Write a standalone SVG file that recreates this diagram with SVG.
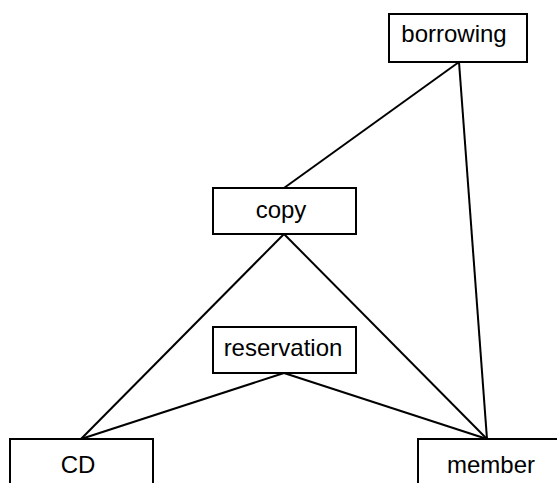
<svg xmlns="http://www.w3.org/2000/svg" width="557" height="483" viewBox="0 0 557 483">
<style>
.box{fill:#fff;stroke:#000;stroke-width:2}
.lbl{font-family:"Liberation Sans",Arial,sans-serif;font-size:24px;fill:#000;text-anchor:middle}
.con line{stroke:#000;stroke-width:2}
</style>
<rect width="557" height="483" fill="#fff"/>
<g class="con" id="connectors">
<line x1="459" y1="62" x2="284" y2="188"/>
<line x1="459" y1="62" x2="487" y2="439"/>
<line x1="284" y1="234" x2="81" y2="439"/>
<line x1="284" y1="234" x2="487" y2="439"/>
<line x1="284" y1="373" x2="81" y2="439"/>
<line x1="284" y1="373" x2="487" y2="439"/>
</g>
<g id="borrowing"><rect class="box" x="389" y="14" width="138" height="48"/><text class="lbl" x="454" y="42">borrowing</text></g>
<g id="copy"><rect class="box" x="213" y="188" width="143" height="46"/><text class="lbl" x="281" y="218">copy</text></g>
<g id="reservation"><rect class="box" x="213" y="327" width="143" height="46"/><text class="lbl" x="283" y="356">reservation</text></g>
<g id="CD"><rect class="box" x="10" y="439" width="143" height="60"/><text class="lbl" x="78" y="473">CD</text></g>
<g id="member"><rect class="box" x="418" y="439" width="143" height="60"/><text class="lbl" x="491" y="473">member</text></g>
</svg>
